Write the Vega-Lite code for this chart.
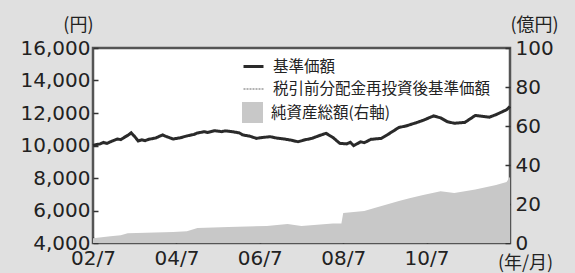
{
  "$schema": "https://vega.github.io/schema/vega-lite/v6.json",
  "width": 417,
  "height": 195,
  "autosize": {"type": "none"},
  "padding": {"left": 93, "top": 48, "right": 65, "bottom": 30},
  "background": "#e0e0e0",
  "config": {
    "font": "DejaVu Sans",
    "view": {"fill": "white", "stroke": "#555555", "strokeWidth": 2.5},
    "axis": {"labelFont": "DejaVu Sans", "labelFontSize": 20, "labelColor": "#222222", "domain": false, "grid": false, "tickColor": "#333333", "tickWidth": 1.5, "titleFont": "Noto Sans CJK JP", "titleFontSize": 18, "titleFontWeight": "normal", "titleColor": "#222222"},
    "legend": {"labelFont": "Noto Sans CJK JP", "labelFontSize": 15.5, "labelColor": "#222222", "labelLimit": 0}
  },
  "datasets": {
    "price": [
      {"date": "2002-07-01", "基準価額": 10000, "税引前分配金再投資後基準価額": 10000},
      {"date": "2002-08-01", "基準価額": 10060, "税引前分配金再投資後基準価額": 10060},
      {"date": "2002-09-01", "基準価額": 10100, "税引前分配金再投資後基準価額": 10100},
      {"date": "2002-10-01", "基準価額": 10190, "税引前分配金再投資後基準価額": 10190},
      {"date": "2002-11-01", "基準価額": 10130, "税引前分配金再投資後基準価額": 10130},
      {"date": "2002-12-01", "基準価額": 10230, "税引前分配金再投資後基準価額": 10230},
      {"date": "2003-01-01", "基準価額": 10320, "税引前分配金再投資後基準価額": 10320},
      {"date": "2003-02-01", "基準価額": 10400, "税引前分配金再投資後基準価額": 10400},
      {"date": "2003-03-01", "基準価額": 10360, "税引前分配金再投資後基準価額": 10360},
      {"date": "2003-04-01", "基準価額": 10500, "税引前分配金再投資後基準価額": 10500},
      {"date": "2003-05-01", "基準価額": 10620, "税引前分配金再投資後基準価額": 10620},
      {"date": "2003-06-01", "基準価額": 10780, "税引前分配金再投資後基準価額": 10780},
      {"date": "2003-07-01", "基準価額": 10550, "税引前分配金再投資後基準価額": 10550},
      {"date": "2003-08-01", "基準価額": 10280, "税引前分配金再投資後基準価額": 10280},
      {"date": "2003-09-01", "基準価額": 10350, "税引前分配金再投資後基準価額": 10350},
      {"date": "2003-10-01", "基準価額": 10300, "税引前分配金再投資後基準価額": 10300},
      {"date": "2003-11-01", "基準価額": 10380, "税引前分配金再投資後基準価額": 10380},
      {"date": "2004-01-01", "基準価額": 10460, "税引前分配金再投資後基準価額": 10460},
      {"date": "2004-03-01", "基準価額": 10650, "税引前分配金再投資後基準価額": 10650},
      {"date": "2004-04-01", "基準価額": 10560, "税引前分配金再投資後基準価額": 10560},
      {"date": "2004-06-01", "基準価額": 10400, "税引前分配金再投資後基準価額": 10400},
      {"date": "2004-08-01", "基準価額": 10470, "税引前分配金再投資後基準価額": 10470},
      {"date": "2004-10-01", "基準価額": 10590, "税引前分配金再投資後基準価額": 10590},
      {"date": "2004-12-01", "基準価額": 10680, "税引前分配金再投資後基準価額": 10680},
      {"date": "2005-01-01", "基準価額": 10770, "税引前分配金再投資後基準価額": 10770},
      {"date": "2005-03-01", "基準価額": 10850, "税引前分配金再投資後基準価額": 10850},
      {"date": "2005-04-01", "基準価額": 10800, "税引前分配金再投資後基準価額": 10800},
      {"date": "2005-06-01", "基準価額": 10910, "税引前分配金再投資後基準価額": 10910},
      {"date": "2005-08-01", "基準価額": 10850, "税引前分配金再投資後基準価額": 10850},
      {"date": "2005-09-01", "基準価額": 10900, "税引前分配金再投資後基準価額": 10900},
      {"date": "2005-11-01", "基準価額": 10850, "税引前分配金再投資後基準価額": 10850},
      {"date": "2006-01-01", "基準価額": 10780, "税引前分配金再投資後基準価額": 10780},
      {"date": "2006-02-01", "基準価額": 10650, "税引前分配金再投資後基準価額": 10650},
      {"date": "2006-04-01", "基準価額": 10580, "税引前分配金再投資後基準価額": 10580},
      {"date": "2006-06-01", "基準価額": 10440, "税引前分配金再投資後基準価額": 10440},
      {"date": "2006-08-01", "基準価額": 10500, "税引前分配金再投資後基準価額": 10500},
      {"date": "2006-10-01", "基準価額": 10540, "税引前分配金再投資後基準価額": 10540},
      {"date": "2006-12-01", "基準価額": 10450, "税引前分配金再投資後基準価額": 10450},
      {"date": "2007-02-01", "基準価額": 10400, "税引前分配金再投資後基準価額": 10400},
      {"date": "2007-04-01", "基準価額": 10330, "税引前分配金再投資後基準価額": 10330},
      {"date": "2007-06-01", "基準価額": 10230, "税引前分配金再投資後基準価額": 10230},
      {"date": "2007-08-01", "基準価額": 10350, "税引前分配金再投資後基準価額": 10350},
      {"date": "2007-10-01", "基準価額": 10440, "税引前分配金再投資後基準価額": 10440},
      {"date": "2007-12-01", "基準価額": 10600, "税引前分配金再投資後基準価額": 10600},
      {"date": "2008-02-01", "基準価額": 10750, "税引前分配金再投資後基準価額": 10750},
      {"date": "2008-04-01", "基準価額": 10500, "税引前分配金再投資後基準価額": 10500},
      {"date": "2008-06-01", "基準価額": 10130, "税引前分配金再投資後基準価額": 10130},
      {"date": "2008-08-01", "基準価額": 10100, "税引前分配金再投資後基準価額": 10100},
      {"date": "2008-09-01", "基準価額": 10200, "税引前分配金再投資後基準価額": 10200},
      {"date": "2008-10-01", "基準価額": 9990, "税引前分配金再投資後基準価額": 9990},
      {"date": "2008-12-01", "基準価額": 10230, "税引前分配金再投資後基準価額": 10230},
      {"date": "2009-01-01", "基準価額": 10170, "税引前分配金再投資後基準価額": 10170},
      {"date": "2009-03-01", "基準価額": 10380, "税引前分配金再投資後基準価額": 10380},
      {"date": "2009-06-01", "基準価額": 10440, "税引前分配金再投資後基準価額": 10440},
      {"date": "2009-08-01", "基準価額": 10700, "税引前分配金再投資後基準価額": 10700},
      {"date": "2009-11-01", "基準価額": 11110, "税引前分配金再投資後基準価額": 11110},
      {"date": "2010-01-01", "基準価額": 11200, "税引前分配金再投資後基準価額": 11200},
      {"date": "2010-04-01", "基準価額": 11400, "税引前分配金再投資後基準価額": 11400},
      {"date": "2010-06-01", "基準価額": 11550, "税引前分配金再投資後基準価額": 11550},
      {"date": "2010-09-01", "基準価額": 11820, "税引前分配金再投資後基準価額": 11820},
      {"date": "2010-11-01", "基準価額": 11700, "税引前分配金再投資後基準価額": 11700},
      {"date": "2011-01-01", "基準価額": 11460, "税引前分配金再投資後基準価額": 11460},
      {"date": "2011-03-01", "基準価額": 11370, "税引前分配金再投資後基準価額": 11370},
      {"date": "2011-06-01", "基準価額": 11420, "税引前分配金再投資後基準価額": 11420},
      {"date": "2011-09-01", "基準価額": 11850, "税引前分配金再投資後基準価額": 11850},
      {"date": "2011-11-01", "基準価額": 11800, "税引前分配金再投資後基準価額": 11800},
      {"date": "2012-01-01", "基準価額": 11740, "税引前分配金再投資後基準価額": 11740},
      {"date": "2012-03-01", "基準価額": 11900, "税引前分配金再投資後基準価額": 11900},
      {"date": "2012-04-01", "基準価額": 12000, "税引前分配金再投資後基準価額": 12000},
      {"date": "2012-06-01", "基準価額": 12200, "税引前分配金再投資後基準価額": 12200},
      {"date": "2012-07-01", "基準価額": 12400, "税引前分配金再投資後基準価額": 12400}
    ],
    "assets": [
      {"date": "2002-07-01", "kind": "純資産総額(右軸)", "assets": 2.5},
      {"date": "2002-12-01", "kind": "純資産総額(右軸)", "assets": 3.5},
      {"date": "2003-03-01", "kind": "純資産総額(右軸)", "assets": 4.0},
      {"date": "2003-05-01", "kind": "純資産総額(右軸)", "assets": 5.0},
      {"date": "2004-06-01", "kind": "純資産総額(右軸)", "assets": 5.6},
      {"date": "2004-10-01", "kind": "純資産総額(右軸)", "assets": 6.0},
      {"date": "2005-01-01", "kind": "純資産総額(右軸)", "assets": 7.7},
      {"date": "2005-10-01", "kind": "純資産総額(右軸)", "assets": 8.2},
      {"date": "2006-09-01", "kind": "純資産総額(右軸)", "assets": 8.7},
      {"date": "2007-03-01", "kind": "純資産総額(右軸)", "assets": 9.7},
      {"date": "2007-07-01", "kind": "純資産総額(右軸)", "assets": 8.7},
      {"date": "2008-04-01", "kind": "純資産総額(右軸)", "assets": 10.0},
      {"date": "2008-06-15", "kind": "純資産総額(右軸)", "assets": 10.0},
      {"date": "2008-07-01", "kind": "純資産総額(右軸)", "assets": 15.4},
      {"date": "2009-01-01", "kind": "純資産総額(右軸)", "assets": 16.4},
      {"date": "2009-04-01", "kind": "純資産総額(右軸)", "assets": 17.9},
      {"date": "2009-11-01", "kind": "純資産総額(右軸)", "assets": 21.5},
      {"date": "2010-02-01", "kind": "純資産総額(右軸)", "assets": 23.0},
      {"date": "2010-06-01", "kind": "純資産総額(右軸)", "assets": 24.6},
      {"date": "2010-11-01", "kind": "純資産総額(右軸)", "assets": 26.5},
      {"date": "2011-03-01", "kind": "純資産総額(右軸)", "assets": 25.6},
      {"date": "2011-09-01", "kind": "純資産総額(右軸)", "assets": 27.5},
      {"date": "2012-03-01", "kind": "純資産総額(右軸)", "assets": 29.7},
      {"date": "2012-06-01", "kind": "純資産総額(右軸)", "assets": 31.3},
      {"date": "2012-07-01", "kind": "純資産総額(右軸)", "assets": 34.0}
    ]
  },
  "layer": [
    {
      "data": {"name": "assets"},
      "mark": {"type": "area", "interpolate": "linear"},
      "encoding": {
        "x": {"field": "date", "type": "temporal",
          "scale": {"type": "utc", "domain": [{"year": 2002, "month": 7, "date": 1, "utc": true}, {"year": 2012, "month": 7, "date": 1, "utc": true}]},
          "axis": {"values": [{"year": 2002, "month": 7, "date": 1, "utc": true}, {"year": 2004, "month": 7, "date": 1, "utc": true}, {"year": 2006, "month": 7, "date": 1, "utc": true}, {"year": 2008, "month": 7, "date": 1, "utc": true}, {"year": 2010, "month": 7, "date": 1, "utc": true}],
            "format": "%y/%-m", "labelFlush": false, "labelOverlap": false, "tickSize": -6, "labelPadding": 11,
            "title": "(年/月)", "titleX": 432, "titleY": 25, "titleAlign": "center", "titleBaseline": "alphabetic"}},
        "y": {"field": "assets", "type": "quantitative",
          "scale": {"domain": [0, 100], "nice": false, "zero": true},
          "axis": {"orient": "right", "values": [0, 20, 40, 60, 80, 100], "tickSize": -5, "labelPadding": 10,
            "title": "(億円)", "titleAngle": 0, "titleX": 0, "titleY": -18, "titleAlign": "left", "titleBaseline": "alphabetic"}},
        "fill": {"field": "kind", "type": "nominal", "scale": {"range": ["#c8c8c8"]},
          "legend": {"title": null, "orient": "none", "legendX": 149, "legendY": 54, "symbolType": "square", "symbolSize": 440, "symbolStrokeWidth": 0, "labelOffset": 8, "padding": 0}}
      }
    },
    {
      "data": {"name": "price"},
      "transform": [{"fold": ["基準価額", "税引前分配金再投資後基準価額"], "as": ["series", "nav"]}],
      "encoding": {
        "x": {"field": "date", "type": "temporal",
          "scale": {"type": "utc", "domain": [{"year": 2002, "month": 7, "date": 1, "utc": true}, {"year": 2012, "month": 7, "date": 1, "utc": true}]}},
        "y": {"field": "nav", "type": "quantitative",
          "scale": {"domain": [4000, 16000], "nice": false, "zero": false},
          "axis": {"orient": "left", "values": [4000, 6000, 8000, 10000, 12000, 14000, 16000], "format": ",d", "tickSize": -5, "labelPadding": 8,
            "title": "(円)", "titleAngle": 0, "titleX": 0, "titleY": -18, "titleAlign": "right", "titleBaseline": "alphabetic"}},
        "stroke": {"field": "series", "type": "nominal",
          "scale": {"domain": ["基準価額", "税引前分配金再投資後基準価額"], "range": ["#2a2a2a", "#9a9a9a"]},
          "legend": {"title": null, "orient": "none", "legendX": 149, "legendY": 7, "symbolType": "stroke", "symbolSize": 400, "labelOffset": 8, "rowPadding": 3, "padding": 0}},
        "strokeWidth": {"field": "series", "type": "nominal",
          "scale": {"domain": ["基準価額", "税引前分配金再投資後基準価額"], "range": [3, 1.5]}, "legend": null},
        "strokeDash": {"field": "series", "type": "nominal",
          "scale": {"domain": ["基準価額", "税引前分配金再投資後基準価額"], "range": [[1, 0], [2, 1]]}, "legend": null}
      },
      "layer": [
        {
          "transform": [{"filter": {"field": "series", "equal": "税引前分配金再投資後基準価額"}}],
          "mark": {"type": "line"}
        },
        {
          "transform": [{"filter": {"field": "series", "equal": "基準価額"}}],
          "mark": {"type": "line"}
        }
      ]
    }
  ],
  "resolve": {"scale": {"y": "independent"}}
}
